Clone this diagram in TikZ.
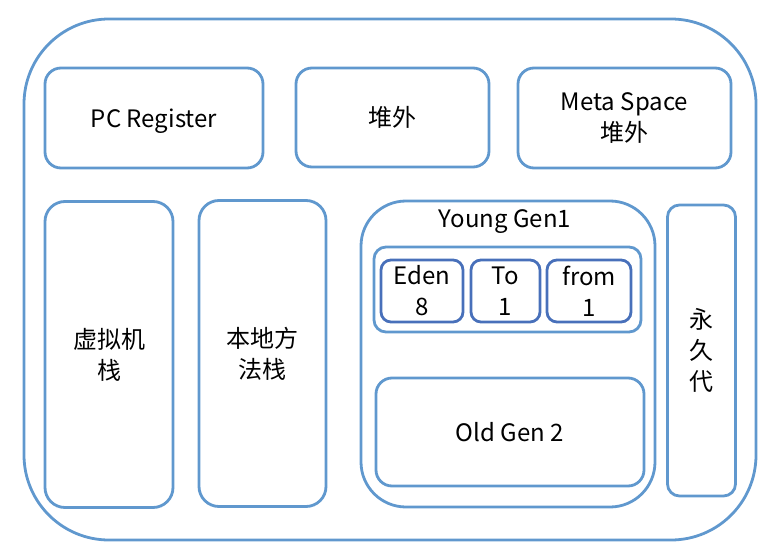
\documentclass[tikz,border=0pt]{standalone}
\usepackage{fontspec}
\newfontfamily\cjk{Noto Sans CJK SC}
\usepackage{tikz}
\definecolor{boxblue}{RGB}{96,152,206}
\definecolor{darkblue}{RGB}{72,112,186}
\tikzset{
  area/.style={draw=boxblue,line width=2.8pt,rounded corners=16pt,inner sep=0pt,
    align=center,font=\cjk\fontsize{24}{31}\selectfont},
  cell/.style={area,draw=darkblue,rounded corners=10pt}
}
\begin{document}
\begin{tikzpicture}[x=1pt,y=-1pt]
\useasboundingbox (0,0) rectangle (776,556);
% Outer box
\node[area,rounded corners=85pt,minimum width=732pt,minimum height=521pt] (jvm) at (390,279.5) {};

% Top row
\node[area,text depth=0pt,minimum width=218pt,minimum height=100pt] (pc) at (154,118) {PC Register};
\node[area,minimum width=193pt,minimum height=99pt] (offheap) at (392.5,117.5) {堆外};
\node[area,minimum width=213pt,minimum height=100pt] (meta) at (624.5,118) {Meta Space\\堆外};

% Stacks
\node[area,rounded corners=20pt,minimum width=128pt,minimum height=306pt] (vmstack) at (109,354.5) {虚拟机\\栈};
\node[area,rounded corners=20pt,minimum width=127pt,minimum height=306pt] (nativestack) at (262.5,353.5) {本地方\\法栈};

% Heap
\node[area,rounded corners=45pt,minimum width=294pt,minimum height=306pt] (heap) at (508,354) {};
\node[font=\cjk\fontsize{24}{31}\selectfont] (younglabel) at (505,222) {Young Gen1};
\node[area,rounded corners=12pt,minimum width=267pt,minimum height=85pt] (young) at (507.5,289.5) {};
\node[cell,minimum width=82pt,minimum height=62pt] (eden) at (422,291) {Eden\\8};
\node[cell,minimum width=69pt,minimum height=62pt] (to) at (505.5,291) {To\\1};
\node[cell,minimum width=84pt,minimum height=62pt] (from) at (589,291) {from\\1};
\node[area,text depth=0pt,minimum width=268pt,minimum height=108pt] (old) at (510,432) {Old Gen 2};

% Perm
\node[area,rounded corners=12pt,minimum width=68pt,minimum height=291pt] (perm) at (701.5,350.5) {永\\久\\代};
\end{tikzpicture}
\end{document}
